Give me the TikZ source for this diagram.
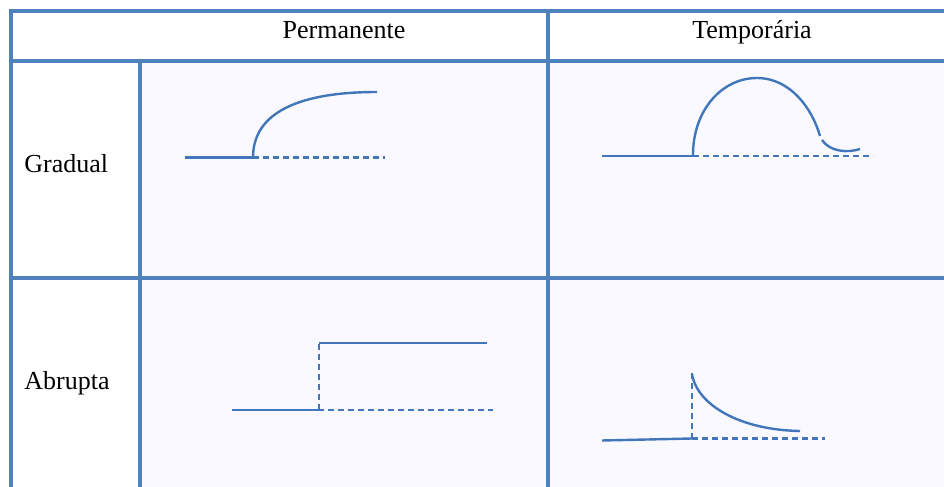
\documentclass[tikz,border=0pt]{standalone}
\usepackage{fontspec}
\setmainfont{Liberation Serif}
\definecolor{gridblue}{HTML}{4F81BD}
\definecolor{curveblue}{HTML}{4177BA}
\definecolor{cellbg}{HTML}{F9F9FF}
\begin{document}
\begin{tikzpicture}[x=0.5pt, y=-0.5pt,
  gridline/.style={draw=gridblue, line width=2pt, line cap=rect},
  series/.style={draw=curveblue, line width=1.2pt},
  baseline dash/.style={series, line width=1.4pt, dash pattern=on 3pt off 2pt},
  label/.style={font=\fontsize{13}{15}\selectfont, anchor=base, inner sep=0pt}]
\useasboundingbox (0,0) rectangle (944,487);
\fill[white] (0,0) rectangle (944,487);
\fill[cellbg] (142,62) rectangle (944,487);
\draw[gridline] (11,11) -- (944,11);
\draw[gridline] (11,11) -- (11,487);
\draw[gridline] (11,61) -- (944,61);
\draw[gridline] (11,278) -- (944,278);
\draw[gridline] (140,61) -- (140,487);
\draw[gridline] (548,11) -- (548,487);
\node[label] (perm) at (344,38.5) {Permanente};
\node[label] (temp) at (752,38.5) {Temporária};
\node[label, anchor=base west] (grad) at (24,172) {Gradual};
\node[label, anchor=base west] (abru) at (24,389) {Abrupta};
\draw[series] (185,157.5) -- (253,157.5);
\draw[baseline dash] (253,157.5) -- (385,157.5);
\draw[series] (253,157.5) .. controls (253,112) and (300,92) .. (377,92);
\draw[series] (602,156) -- (693,156);
\draw[baseline dash] (693,156) -- (873,156);
\draw[series] (693,155) .. controls (693,110) and (722,78) .. (757,78) .. controls (790,78) and (812,108) .. (820,136);
\draw[series] (822,140) .. controls (830,152) and (848,153) .. (860,149);
\draw[series] (232,410) -- (318,410);
\draw[baseline dash] (318,410) -- (493,410);
\draw[baseline dash] (319,410) -- (319,343);
\draw[series] (319,343) -- (487,343);
\draw[series] (602,440.5) -- (692,438.5);
\draw[baseline dash] (692,438.5) -- (825,438.5);
\draw[baseline dash] (692,438.5) -- (692,372);
\draw[series] (692,374) .. controls (697,405) and (740,430) .. (800,431);
\end{tikzpicture}
\end{document}
